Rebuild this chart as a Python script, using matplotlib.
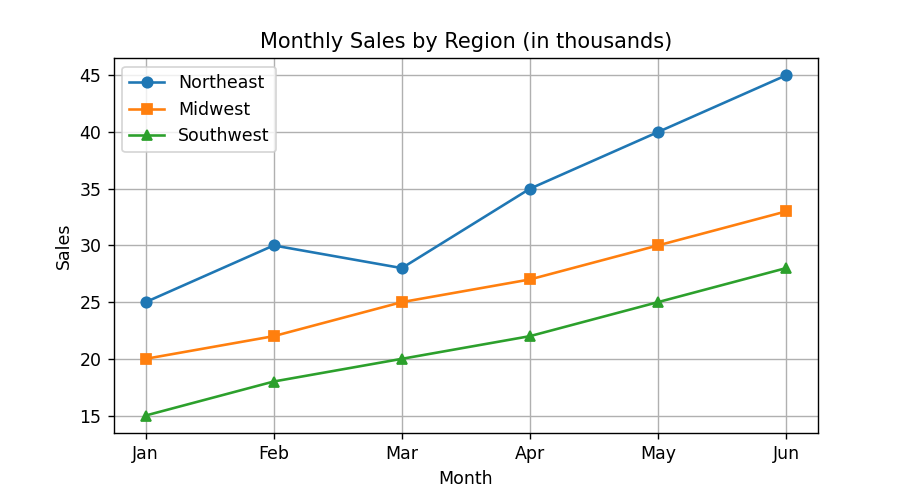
import matplotlib
matplotlib.use('agg')
import matplotlib.pyplot as plt

months = ['Jan', 'Feb', 'Mar', 'Apr', 'May', 'Jun']
northeast = [25, 30, 28, 35, 40, 45]
midwest = [20, 22, 25, 27, 30, 33]
southwest = [15, 18, 20, 22, 25, 28]

# 909x486 px at dpi 125
fig, ax = plt.subplots(figsize=(7.272, 3.888), dpi=125)
ax.plot(months, northeast, marker='o', label='Northeast')
ax.plot(months, midwest, marker='s', label='Midwest')
ax.plot(months, southwest, marker='^', label='Southwest')

ax.set_title('Monthly Sales by Region (in thousands)')
ax.set_xlabel('Month')
ax.set_ylabel('Sales')
ax.grid(True)
ax.legend()

fig.savefig('out.png')
